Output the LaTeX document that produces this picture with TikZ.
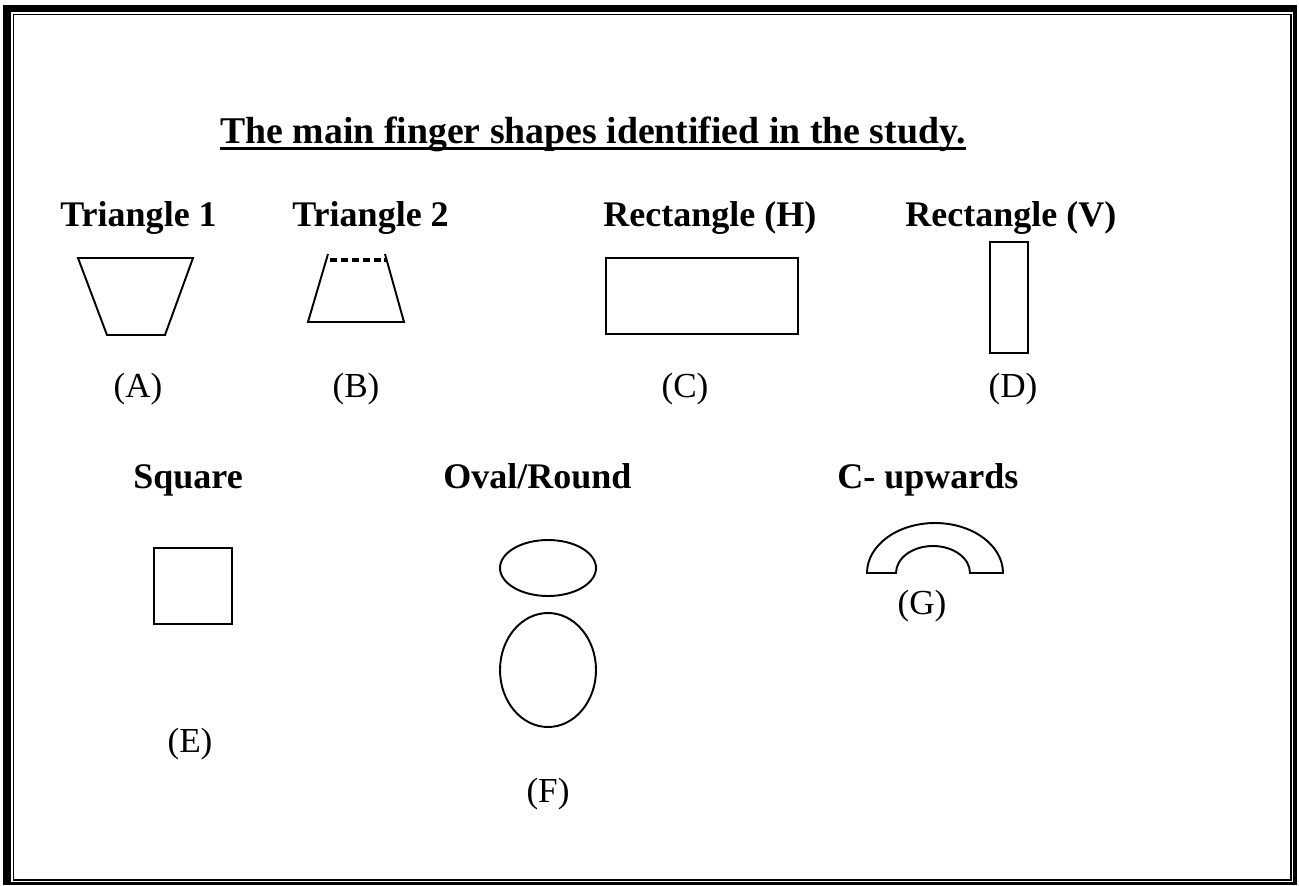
\documentclass[tikz,border=0pt]{standalone}
\usepackage{fontspec}
\setmainfont{Liberation Serif}
\usetikzlibrary{positioning}
\tikzset{
  titulo/.style={anchor=base west, inner sep=0pt, font=\fontsize{21.5}{24}\selectfont\bfseries},
  cabecera/.style={anchor=base west, inner sep=0pt, font=\fontsize{20.5}{24}\selectfont\bfseries},
  letra/.style={anchor=base, inner sep=0pt, font=\fontsize{20}{24}\selectfont},
  forma/.style={line width=1.1pt, line join=miter}
}
\begin{document}
\begin{tikzpicture}[x=0.02cm, y=-0.02cm]
                \useasboundingbox (0,0) rectangle (1299,886);
                \fill (3,5) rectangle (1297,885); % marco grueso
                \fill[white] (10.5,12) rectangle (1293,882);
                \draw[line width=0.9pt] (13.5,14.5) rectangle (1291,880); % marco fino
                \node[titulo] (titulo) at (220,143) {The main finger shapes identified in the study.};
                \draw[line width=1.8pt] ([yshift=-3pt]titulo.base west) -- ([yshift=-3pt]titulo.base east);
                % primera fila
                \node[cabecera] (tri1) at (60,226) {Triangle 1};
                \node[cabecera] (tri2) at (292,226) {Triangle 2};
                \node[cabecera] (recth) at (603,226) {Rectangle (H)};
                \node[cabecera] (rectv) at (905,226) {Rectangle (V)};
                \draw[forma] (78,258) -- (193,258) -- (165,335) -- (107,335) -- cycle;
                \draw[forma] (328,254) -- (308,322) -- (404,322) -- (385,254);
                \draw[line width=1.9pt, dash pattern=on 4pt off 2.2pt] (330,260) -- (386,260);
                \draw[forma] (606,258) rectangle (798,334);
                \draw[forma] (990,242) rectangle (1028,353);
                \node[letra] (a) at (138,397) {(A)};
                \node[letra] (b) at (356,397) {(B)};
                \node[letra] (c) at (685,397) {(C)};
                \node[letra] (d) at (1013,397) {(D)};
                % segunda fila
                \node[cabecera] (cuadrado) at (133,488) {Square};
                \node[cabecera] (ovalo) at (443,488) {Oval/Round};
                \node[cabecera] (cup) at (837,488) {C- upwards};
                \draw[forma] (154,548) rectangle (232,624);
                \draw[forma] (548,568) ellipse [x radius=48, y radius=28];
                \draw[forma] (548,670) ellipse [x radius=48, y radius=57];
                \draw[forma] (867,573) arc[start angle=180, end angle=360, x radius=68, y radius=50]
                  -- (970,573) arc[start angle=0, end angle=-180, x radius=37, y radius=27] -- cycle;
                \node[letra] (e) at (190,752) {(E)};
                \node[letra] (f) at (548,802) {(F)};
                \node[letra] (g) at (922,614) {(G)};
\end{tikzpicture}
\end{document}
